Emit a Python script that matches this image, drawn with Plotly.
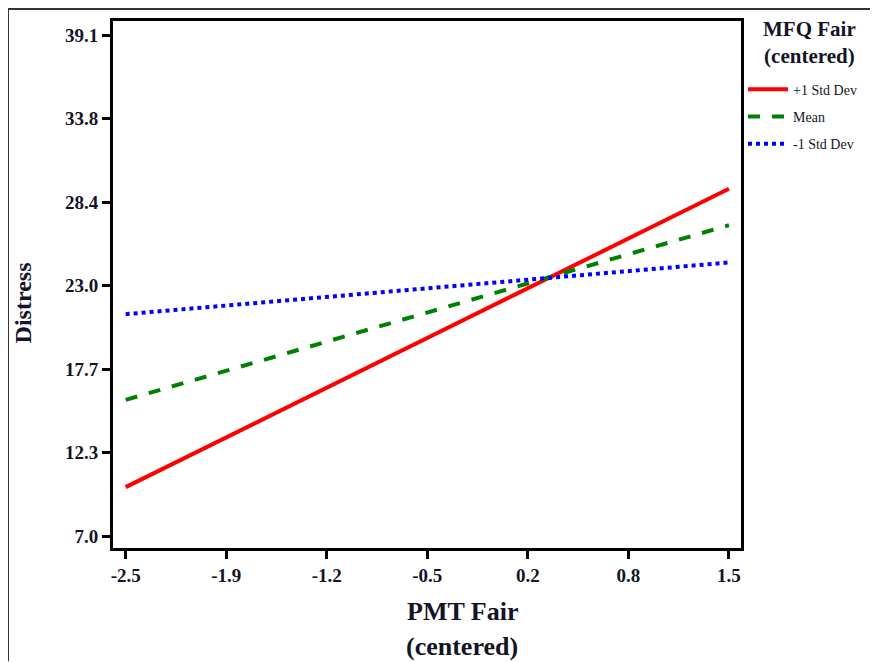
import plotly.graph_objects as go

# Data
x_vals = [-2.5, 1.5]
series_names = ["+1 Std Dev", "Mean", "-1 Std Dev"]
plus1_sd = [10.14, 29.25]
mean_vals = [15.73, 26.92]
minus1_sd = [21.22, 24.53]

x_tick_vals = [-2.5, -2.5 + 4/6, -2.5 + 8/6, -0.5, -0.5 + 2/3, -0.5 + 4/3, 1.5]
x_tick_text = ["-2.5", "-1.9", "-1.2", "-0.5", "0.2", "0.8", "1.5"]
y_tick_vals = [7.0 + i * (39.1 - 7.0) / 6 for i in range(7)]
y_tick_text = ["7.0", "12.3", "17.7", "23.0", "28.4", "33.8", "39.1"]

FONT = "Liberation Serif, Times New Roman, serif"
TXT = "#141428"

fig = go.Figure()
styles = [("red", "solid"), ("green", "dash"), ("blue", "dot")]
for name, ys, (col, dash), g in zip(series_names, [plus1_sd, mean_vals, minus1_sd], styles, ["a", "b", "c"]):
    fig.add_trace(go.Scatter(x=x_vals, y=ys, mode="lines", name=name, legendgroup=g,
                             line=dict(color=col, width=4, dash=dash)))

OFF = 8  # page body margin
W, H = 878 - OFF, 662 - OFF
L, T = 113 - OFF, 18 - OFF
pw, ph = 628, 530
R = W - L - pw
B = H - T - ph


def px_x(px):
    return (px - OFF - L) / pw


def px_y(py):
    return 1 - (py - OFF - T) / ph


axis_common = dict(showline=True, linecolor="black", linewidth=3, mirror=True,
                   ticks="outside", ticklen=8, tickwidth=3, tickcolor="black",
                   showgrid=False, zeroline=False,
                   tickfont=dict(family=FONT, size=19, color=TXT))

fig.update_layout(
    width=W, height=H,
    margin=dict(l=L, r=R, t=T, b=B),
    plot_bgcolor="white", paper_bgcolor="white",
    xaxis=dict(range=[-2.584, 1.58], tickvals=x_tick_vals,
               ticktext=["<b>%s</b>" % t for t in x_tick_text], **axis_common),
    yaxis=dict(range=[6.24, 40.0], tickvals=y_tick_vals,
               ticktext=["<b>%s</b>" % t for t in y_tick_text], **axis_common),
    legend=dict(x=px_x(743), xanchor="left", y=px_y(71), yanchor="top",
                font=dict(family=FONT, size=14, color=TXT),
                itemwidth=40, tracegroupgap=6, bgcolor="rgba(0,0,0,0)"),
    annotations=[
        dict(text="<b>MFQ Fair<br>(centered)</b>", xref="paper", yref="paper",
             x=px_x(809), y=px_y(40), showarrow=False,
             font=dict(family=FONT, size=21, color=TXT), xanchor="center", yanchor="middle"),
        dict(text="<b>PMT Fair</b>", xref="paper", yref="paper",
             x=px_x(462), y=px_y(612), showarrow=False,
             font=dict(family=FONT, size=26, color=TXT), xanchor="center", yanchor="middle"),
        dict(text="<b>(centered)</b>", xref="paper", yref="paper",
             x=px_x(462), y=px_y(647), showarrow=False,
             font=dict(family=FONT, size=26, color=TXT), xanchor="center", yanchor="middle"),
        dict(text="<b>Distress</b>", xref="paper", yref="paper",
             x=px_x(23), y=px_y(302), showarrow=False, textangle=-90,
             font=dict(family=FONT, size=24, color=TXT), xanchor="center", yanchor="middle"),
    ],
    shapes=[
        dict(type="line", xref="paper", yref="paper",
             x0=px_x(8), x1=px_x(8), y0=px_y(6), y1=px_y(662),
             line=dict(color="#333", width=2)),
        dict(type="line", xref="paper", yref="paper",
             x0=px_x(8), x1=px_x(878), y0=px_y(6), y1=px_y(6),
             line=dict(color="#333", width=2)),
    ],
)

fig.write_html("out.html")
